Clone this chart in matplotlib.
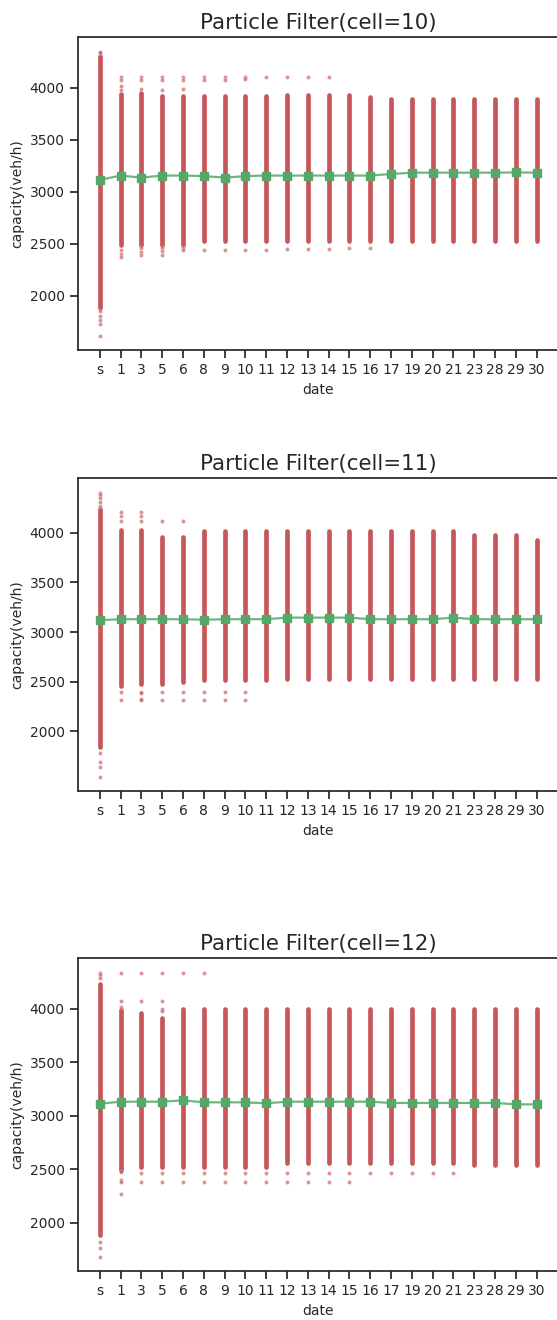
import numpy as np
import matplotlib.pyplot as plt

plt.rcParams['font.family'] = ['DejaVu Sans']

dates = ['s', '1', '3', '5', '6', '8', '9', '10', '11', '12', '13', '14',
         '15', '16', '17', '19', '20', '21', '23', '28', '29', '30']
cells = [10, 11, 12]

# mean capacity per date
mean_10 = [3113, 3155, 3135, 3155, 3155, 3150, 3135, 3150, 3155, 3155, 3155,
           3155, 3155, 3155, 3170, 3183, 3183, 3183, 3183, 3183, 3185, 3183]
mean_11 = [3120, 3130, 3130, 3130, 3130, 3125, 3130, 3130, 3130, 3146, 3146,
           3146, 3146, 3130, 3130, 3130, 3130, 3146, 3130, 3130, 3130, 3130]
mean_12 = [3112, 3131, 3131, 3131, 3143, 3125, 3125, 3125, 3116, 3131, 3131,
           3131, 3131, 3131, 3119, 3119, 3119, 3119, 3119, 3119, 3106, 3106]

# dense band of particles (top / bottom)
hi_10 = [4300, 3935, 3950, 3915, 3915, 3915, 3915, 3915, 3915, 3930, 3930,
         3930, 3925, 3910, 3895, 3895, 3895, 3895, 3895, 3895, 3895, 3895]
lo_10 = [1882, 2490, 2490, 2490, 2490, 2522, 2522, 2522, 2522, 2522, 2522,
         2522, 2522, 2522, 2522, 2522, 2522, 2522, 2522, 2522, 2522, 2522]
hi_11 = [4240, 4030, 4030, 3957, 3957, 4023, 4023, 4023, 4023, 4023, 4023,
         4023, 4023, 4023, 4023, 4023, 4023, 4023, 3983, 3983, 3983, 3930]
lo_11 = [1843, 2460, 2477, 2477, 2493, 2517, 2517, 2517, 2517, 2527, 2527,
         2527, 2527, 2527, 2527, 2527, 2527, 2527, 2527, 2527, 2527, 2527]
hi_12 = [4228, 3987, 3962, 3915, 4000, 4000, 4000, 4000, 4000, 3994, 3994,
         3994, 3994, 3994, 3994, 3994, 3994, 3994, 3994, 3994, 3994, 3994]
lo_12 = [1884, 2493, 2525, 2525, 2525, 2525, 2525, 2525, 2525, 2556, 2556,
         2556, 2556, 2556, 2556, 2556, 2556, 2556, 2540, 2540, 2540, 2540]

# scattered particles outside the dense band
up_10 = [[4330, 4345], [4106, 4077, 4019, 3981], [4106, 4077, 3990],
         [4106, 4077, 3981], [4106, 4077, 3990], [4106, 4077], [4106, 4077],
         [4106, 4080], [4106], [4106], [4106], [4106],
         [], [], [], [], [], [], [], [], [], []]
down_10 = [[1850, 1802, 1770, 1731, 1615], [2442, 2404, 2368],
           [2458, 2425, 2394], [2458, 2430, 2394], [2458, 2436], [2442],
           [2442], [2442], [2442], [2448], [2448], [2448], [2458], [2458],
           [], [], [], [], [], [], [], []]
up_11 = [[4406, 4380, 4350, 4310, 4273], [4206, 4175, 4123],
         [4206, 4175, 4118], [4123], [4123],
         [], [], [], [], [], [], [], [], [], [], [], [], [], [], [], [], []]
down_11 = [[1783, 1693, 1637, 1543], [2400, 2317], [2400, 2390, 2325, 2317],
           [2400, 2317], [2400, 2317], [2400, 2317], [2400, 2317],
           [2400, 2317], [], [], [], [], [], [], [], [], [], [], [], [], [], []]
up_12 = [[4337, 4315, 4290], [4337, 4071, 4019], [4337, 4071],
         [4337, 4071, 4000, 3975], [4337], [4337],
         [], [], [], [], [], [], [], [], [], [], [], [], [], [], [], []]
down_12 = [[1822, 1760, 1681], [2470, 2400, 2380, 2268], [2468, 2378],
           [2468, 2378], [2468, 2378], [2468, 2378], [2468, 2378],
           [2468, 2378], [2468, 2378], [2468, 2378], [2468, 2378],
           [2468, 2378], [2468, 2378], [2468], [2468], [2468], [2468],
           [2468], [], [], [], []]

panels = [
    (mean_10, hi_10, lo_10, up_10, down_10),
    (mean_11, hi_11, lo_11, up_11, down_11),
    (mean_12, hi_12, lo_12, up_12, down_12),
]

red = '#C44E52'
green = '#55A868'
dark = '#262626'

fig = plt.figure(figsize=(5.57, 13.2), dpi=100)
bottoms = [0.7348, 0.4008, 0.0371]
x = np.arange(len(dates))

for cell, bottom, (mean, hi, lo, up, down) in zip(cells, bottoms, panels):
    ax = fig.add_axes([0.140, bottom, 0.8627, 0.2368])

    ax.vlines(x, lo, hi, colors=red, linewidth=3.4, alpha=0.95,
              capstyle='round', zorder=2)
    for xi, vals in zip(x, up):
        ax.scatter([xi] * len(vals), vals, s=9, color=red, alpha=0.6,
                   edgecolors='white', linewidths=0.3, zorder=2)
    for xi, vals in zip(x, down):
        ax.scatter([xi] * len(vals), vals, s=9, color=red, alpha=0.6,
                   edgecolors='white', linewidths=0.3, zorder=2)

    ax.plot(x, mean, color=green, linewidth=1.6, alpha=0.85, zorder=3)
    ax.plot(x, mean, linestyle='none', marker='s', markersize=5.3,
            color=green, zorder=4)

    ax.set_xticks(x)
    ax.set_xticklabels(dates)
    ax.set_yticks([2000, 2500, 3000, 3500, 4000])
    ax.set_xlim(-1.05, len(dates) - 1 + 1.05)

    ax.set_title(f'Particle Filter(cell={cell})', fontsize=15.4, color=dark,
                 pad=6)
    ax.set_xlabel('date', fontsize=10, color=dark)
    ax.set_ylabel('capacity(veh/h)', fontsize=10, color=dark)

    for sp in ax.spines.values():
        sp.set_linewidth(1.25)
        sp.set_color(dark)
    ax.tick_params(direction='out', length=6, width=1.25, color=dark,
                   labelcolor=dark, labelsize=10)

fig.savefig('out.png', dpi=100)
